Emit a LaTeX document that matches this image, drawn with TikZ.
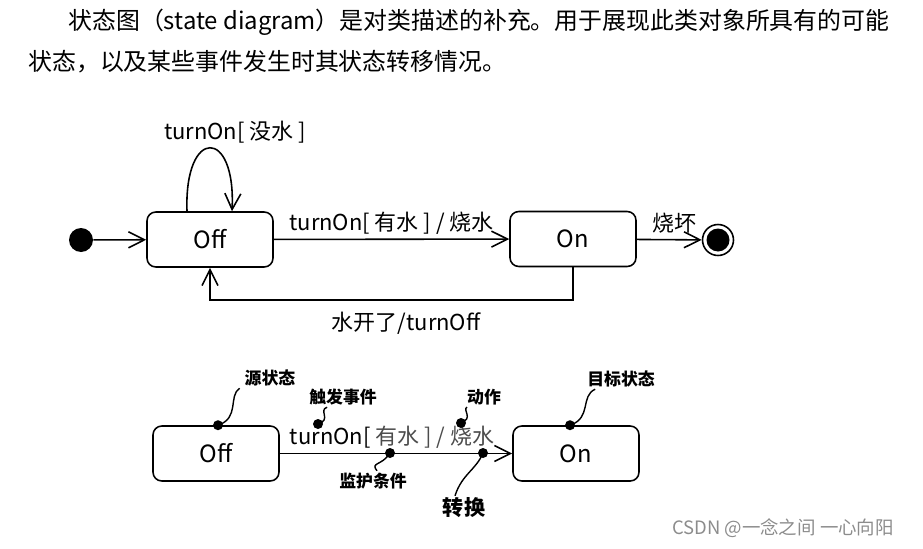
\documentclass[tikz,border=0pt]{standalone}
\usepackage{fontspec}
\setmainfont{Noto Sans CJK SC}
\usetikzlibrary{positioning,arrows.meta}

\begin{document}
\begin{tikzpicture}[x=0.02cm, y=-0.02cm, >={Straight Barb[length=3.2mm,width=3.2mm]},
  every node/.style={font=\fontsize{12.5}{15}\selectfont},
  state/.style={draw, line width=0.9pt, rounded corners=5pt, minimum width=2.52cm, minimum height=1.1cm, font=\fontsize{13.5}{16}\selectfont},
  flow/.style={->, line width=0.9pt},
  lead/.style={line width=0.8pt},
  dot/.style={fill, circle, inner sep=0pt, minimum size=0.2cm},
  note/.style={inner sep=1pt, font=\bfseries\fontsize{9.6}{12}\selectfont}]
  \useasboundingbox (0,0) rectangle (923,548);

  % intro text
  \node[anchor=west, inner sep=0pt, font=\fontsize{13.6}{16}\selectfont] (intro1) at (68,22) {状态图（state diagram）是对类描述的补充。用于展现此类对象所具有的可能};
  \node[anchor=west, inner sep=0pt, font=\fontsize{13.6}{16}\selectfont] (intro2) at (28,62) {状态，以及某些事件发生时其状态转移情况。};

  % state diagram
  \node[dot, minimum size=0.48cm] (init) at (81,240) {};
  \node[state] (off) at (210,239.5) {Off};
  \node[state] (on) at (573,239) {On};
  \node[circle, draw, line width=0.9pt, minimum size=0.62cm, inner sep=0pt] (final) at (718,240) {};
  \node[dot, minimum size=0.46cm] at (final) {};

  \draw[flow] (init) -- (off);
  \draw[flow] ([xshift=-0.46cm]off.north) .. controls (184,127) and (236,127) .. ([xshift=0.44cm]off.north);
  \node (loop) at (235,132) {turnOn[ 没水 ]};
  \draw[flow] (off) -- node[above=-1pt] (wet) {turnOn[ 有水 ] / 烧水} (on);
  \draw[flow] (on) -- node[above=0pt, xshift=0.1cm] (burn) {烧坏} (final);
  \draw[flow] (on.south) -- ++(0,33) -| node[pos=0.23, below=3pt] (boil) {水开了/turnOff} (off.south);

  % transition anatomy
  \node[state] (off2) at (216,453.5) {Off};
  \node[state] (on2) at (576,453.5) {On};
  \draw[flow] (off2) -- node[above=-1pt, xshift=-0.08cm] (trig) {turnOn[ \textcolor{black!70}{有水 ] / 烧水}} (on2);

  \node[dot] (d1) at ([xshift=0.04cm]off2.north) {};
  \node[dot] (d2) at (318,424) {};
  \node[dot] (d3) at (461,423) {};
  \node[dot] (d4) at ([xshift=-0.12cm]on2.north) {};
  \node[dot] (d5) at (390,453) {};
  \node[dot] (d6) at (483,453) {};

  \node[note] (t1) at (270,378) {源状态};
  \node[note] (t2) at (343,397) {触发事件};
  \node[note] (t3) at (484,397) {动作};
  \node[note] (t4) at (621,379) {目标状态};
  \node[note] (t5) at (373,481) {监护条件};
  \node[note, font=\bfseries\fontsize{12}{14}\selectfont] (t6) at (464,508) {转换};

  \draw[lead] (d1.center) .. controls (240,418) and (228,396) .. ([xshift=-0.06cm]t1.south west);
  \draw[lead] (d2.center) .. controls (332,420) and (318,410) .. ([xshift=0.4cm]t2.south west);
  \draw[lead] (d3.center) .. controls (474,418) and (462,410) .. ([xshift=0.04cm]t3.south west);
  \draw[lead] (d4.center) .. controls (592,418) and (580,396) .. ([xshift=0.2cm]t4.south west);
  \draw[lead] (d5.center) .. controls (382,466) and (370,462) .. ([xshift=0.08cm]t5.north);
  \draw[lead] (d6.center) .. controls (476,470) and (462,474) .. ([xshift=-0.18cm]t6.north);

  \node[text=black!45, font=\fontsize{10.5}{12}\selectfont] (mark) at (783,528) {CSDN @一念之间 一心向阳};
\end{tikzpicture}
\end{document}
